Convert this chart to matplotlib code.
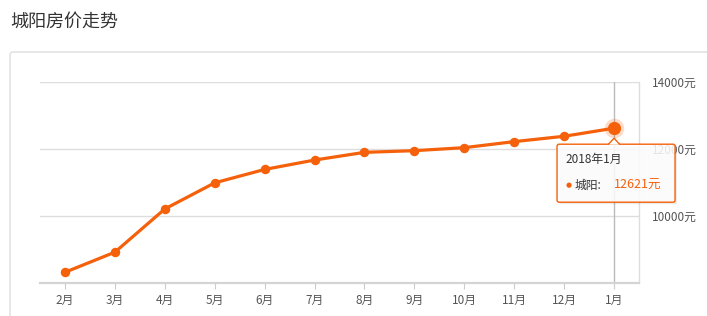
import matplotlib
matplotlib.use('Agg')
import matplotlib.pyplot as plt
from matplotlib.patches import FancyBboxPatch, Polygon, Circle
from matplotlib.transforms import IdentityTransform

plt.rcParams['font.family'] = ['Noto Sans CJK SC', 'DejaVu Sans']

# data
months = ['2月', '3月', '4月', '5月', '6月', '7月', '8月', '9月', '10月', '11月', '12月', '1月']
prices = [8320, 8920, 10210, 10990, 11390, 11670, 11900, 11950, 12040, 12220, 12380, 12621]
y_ticks = [10000, 12000, 14000]
y_tick_labels = ['10000元', '12000元', '14000元']
title = '城阳房价走势'
series_name = '城阳'
tip_date = '2018年1月'

ORANGE = '#f5600a'
W, H = 707, 316

fig = plt.figure(figsize=(W / 100, H / 100), dpi=100)
fig.patch.set_facecolor('white')

# outer panel box (outline only, so the axes stay visible)
fig.patches.append(FancyBboxPatch((10, -20), 720, H - 52 + 20,
                                  boxstyle='round,pad=0,rounding_size=3',
                                  transform=IdentityTransform(), fc='none',
                                  ec='#dddddd', lw=1, zorder=-1))
fig.text(10 / W, 1 - 22 / H, title, fontsize=13, color='#333333',
         ha='left', va='center')

ax = fig.add_axes([40 / W, (H - 283) / H, (639 - 40) / W, (283 - 82) / H])
ax.set_facecolor('none')
x = list(range(len(months)))
ax.plot(x, prices, '-o', color=ORANGE, lw=2.3, ms=5.8, mec=ORANGE, zorder=5)

ax.set_xlim(-0.5, len(months) - 0.5)
ax.set_ylim(8000, 14000)
ax.set_yticks(y_ticks)
ax.set_yticklabels(y_tick_labels)
ax.yaxis.tick_right()
ax.tick_params(axis='y', length=0, pad=9, labelsize=8.5, labelcolor='#555555')
ax.set_xticks(x)
ax.set_xticklabels(months)
ax.tick_params(axis='x', length=4, color='#cccccc', pad=4, labelsize=8.5,
               labelcolor='#555555')
ax.grid(axis='y', color='#dddddd', lw=1)
for s in ['left', 'top']:
    ax.spines[s].set_visible(False)
ax.spines['bottom'].set_color('#d4d4d4')
ax.spines['bottom'].set_linewidth(1.6)
ax.spines['right'].set_color('#dddddd')
ax.spines['right'].set_linewidth(1)

# hover crosshair + highlighted point
ax.axvline(x[-1], color='#bbbbbb', lw=1, zorder=2)
ax.plot(x[-1], prices[-1], 'o', ms=14, color=ORANGE, alpha=0.22, mew=0, zorder=6)
ax.plot(x[-1], prices[-1], 'o', ms=9.5, color=ORANGE, mew=0, zorder=7)

# tooltip (slightly see-through, like the original)
fig.canvas.draw()
hx, hy = ax.transData.transform((x[-1], prices[-1]))
tl, tt, tr, tb = hx - 57, hy - 16, hx + 61, hy - 74
shadow = FancyBboxPatch((tl + 2, tb - 2), tr - tl, tt - tb,
                        boxstyle='round,pad=0,rounding_size=2',
                        transform=IdentityTransform(), fc='#000000', alpha=0.08,
                        ec='none', zorder=20)
box = FancyBboxPatch((tl, tb), tr - tl, tt - tb,
                     boxstyle='round,pad=0,rounding_size=2',
                     transform=IdentityTransform(), fc=(1, 1, 1, 0.85),
                     ec=ORANGE, lw=1, zorder=21)
notch = Polygon([(hx - 6, tt - 0.5), (hx, tt + 6), (hx + 6, tt - 0.5)],
                closed=False, transform=IdentityTransform(), fc='white',
                ec=ORANGE, lw=1, zorder=22)
fig.patches.extend([shadow, box, notch])
fig.text((tl + 8) / W, (tt - 15) / H, tip_date, fontsize=8.5, color='#333333',
         ha='left', va='center', zorder=23)
fig.patches.append(Circle((tl + 12, tt - 41), 2.6, transform=IdentityTransform(),
                          fc=ORANGE, ec='none', zorder=23))
fig.text((tl + 17) / W, (tt - 41) / H, series_name + ':', fontsize=8.5,
         color='#333333', ha='left', va='center', zorder=23)
fig.text((tl + 57) / W, (tt - 41) / H, f'{prices[-1]}元', fontsize=9,
         color=ORANGE, ha='left', va='center', zorder=23)

fig.savefig('out.png', dpi=100, facecolor='white')
